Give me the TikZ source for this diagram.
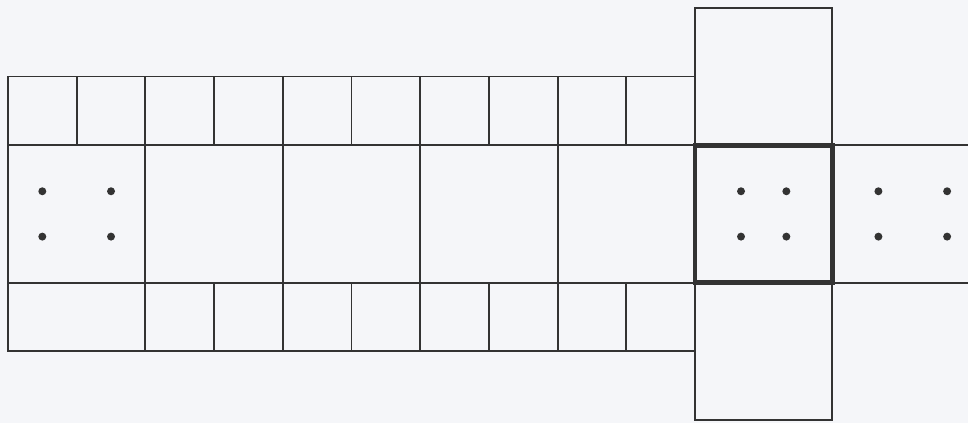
\documentclass[tikz,border=0pt]{standalone}
\usetikzlibrary{backgrounds}
\definecolor{GridInk}{HTML}{333333}
\definecolor{PaperTone}{HTML}{F5F6F9}

\begin{document}
\begin{tikzpicture}[
  x=1cm, y=1cm,
  cell/.style={draw=GridInk, line width=0.8pt},
  keybox/.style={draw=GridInk, line width=1.9pt},
  pip/.style={fill=GridInk}
]
  \useasboundingbox[fill=PaperTone] (-0.116,-0.044) rectangle (13.974,6.114);
  \coordinate (edgeT) at (13.974,4);
  \coordinate (edgeB) at (13.974,2);

  % Top row: ten small squares
  \foreach \i in {0,...,9}
    \draw[cell] (\i,4) rectangle ++(1,1);

  % Middle row: five wide blocks
  \foreach \i in {0,2,...,8}
    \draw[cell] (\i,2) rectangle ++(2,2);

  % Bottom row: one wide block, then eight small squares
  \draw[cell] (0,1) rectangle (2,2);
  \foreach \i in {2,...,9}
    \draw[cell] (\i,1) rectangle ++(1,1);

  % Tall column with the marked square
  \draw[cell] (10,0) rectangle (12,6);
  \draw[keybox] (10,2) rectangle (12,4);

  % Open strip to the right
  \draw[cell] (12,4) -- (edgeT);
  \draw[cell] (12,2) -- (edgeB);

  % Dots
  \foreach \y in {2.67,3.33} {
    \foreach \x in {0.5,1.5}
      \fill[pip] (\x,\y) circle[radius=0.058];
    \foreach \x in {10.67,11.33}
      \fill[pip] (\x,\y) circle[radius=0.058];
    \foreach \x in {12.67,13.67}
      \fill[pip] (\x,\y) circle[radius=0.058];
  }
\end{tikzpicture}
\end{document}
